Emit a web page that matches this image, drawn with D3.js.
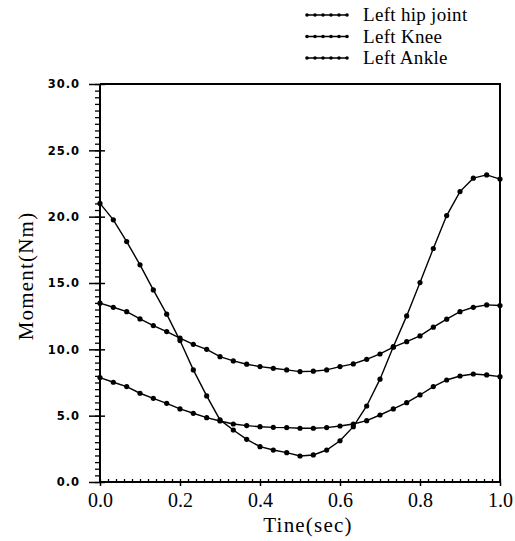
<!DOCTYPE html>
<html>
<head>
<meta charset="utf-8">
<script src="https://cdn.jsdelivr.net/npm/d3@7"></script>
<style>
  body { margin: 0; background: #fff; }
  svg { display: block; }
</style>
</head>
<body>
<svg id="chart"></svg>
<script>
const width = 515
const height = 541

// sample times (sec), 31 samples
const time = [0, 0.0333, 0.0667, 0.1, 0.1333, 0.1667, 0.2, 0.2333, 0.2667, 0.3, 0.3333,
  0.3667, 0.4, 0.4333, 0.4667, 0.5, 0.5333, 0.5667, 0.6, 0.6333, 0.6667, 0.7, 0.7333,
  0.7667, 0.8, 0.8333, 0.8667, 0.9, 0.9333, 0.9667, 1.0]

const hip = [21.0, 19.76, 18.12, 16.37, 14.48, 12.65, 10.66, 8.45, 6.49, 4.68, 3.92,
  3.22, 2.66, 2.41, 2.21, 1.96, 2.04, 2.41, 3.11, 4.17, 5.73, 7.75, 10.2, 12.52,
  15.03, 17.6, 20.08, 21.89, 22.9, 23.15, 22.83]
const knee = [13.48, 13.17, 12.84, 12.29, 11.79, 11.34, 10.84, 10.38, 10.0, 9.45, 9.13,
  8.88, 8.70, 8.57, 8.45, 8.32, 8.35, 8.45, 8.70, 8.90, 9.25, 9.65, 10.16, 10.58,
  11.01, 11.67, 12.27, 12.84, 13.17, 13.35, 13.3]
const ankle = [7.87, 7.52, 7.19, 6.69, 6.31, 5.93, 5.51, 5.18, 4.85, 4.60, 4.37,
  4.25, 4.17, 4.12, 4.10, 4.05, 4.05, 4.10, 4.22, 4.37, 4.62, 5.05, 5.51, 5.98,
  6.56, 7.19, 7.69, 7.99, 8.14, 8.07, 7.94]

const seriesNames = ['Left  hip  joint', 'Left  Knee', 'Left  Ankle']
const xTicks = [0, 0.2, 0.4, 0.6, 0.8, 1.0]
const yTicks = [0, 5, 10, 15, 20, 25, 30]

const series = [hip, knee, ankle].map((vals, i) => ({
  name: seriesNames[i],
  points: vals.map((v, j) => ({ t: time[j], v }))
}))

const margin = { left: 100, right: 15, top: 84, bottom: 59 }
const x = d3.scaleLinear().domain([0, 1]).range([margin.left, width - margin.right])
const y = d3.scaleLinear().domain([0, 30]).range([height - margin.bottom, margin.top])

const svg = d3.select('#chart')
  .attr('width', width)
  .attr('height', height)
  .attr('viewBox', `0 0 ${width} ${height}`)

const serif = '"Liberation Serif", "DejaVu Serif", serif'

// frame (top + right)
svg.append('path')
  .attr('d', `M${x(0)},${y(30)}H${x(1)}V${y(0)}`)
  .attr('fill', 'none')
  .attr('stroke', '#000')
  .attr('stroke-width', 2)

// minor ticks
const yMinor = d3.axisLeft(y).tickValues(d3.range(0, 30.01, 0.5)).tickSize(5).tickFormat('')
svg.append('g')
  .attr('transform', `translate(${x(0)},0)`)
  .call(yMinor)
  .call(g => g.select('.domain').remove())
  .call(g => g.selectAll('line').attr('stroke-width', 1.3))

const xMinor = d3.axisTop(x).tickValues(d3.range(0, 1.001, 0.02)).tickSize(3).tickFormat('')
svg.append('g')
  .attr('transform', `translate(0,${y(0)})`)
  .call(xMinor)
  .call(g => g.select('.domain').remove())
  .call(g => g.selectAll('line').attr('stroke-width', 1.3))

// major axes
const yAxis = d3.axisLeft(y).tickValues(yTicks).tickSize(11).tickPadding(9)
  .tickFormat(d3.format('.1f'))
svg.append('g')
  .attr('transform', `translate(${x(0)},0)`)
  .call(yAxis)
  .call(g => g.select('.domain').attr('stroke-width', 2).attr('d', `M0,${y(0)}V${y(30)}`))
  .call(g => g.selectAll('line').attr('stroke-width', 1.5).attr('x1', 5))
  .call(g => g.selectAll('text')
    .attr('font-family', '"DejaVu Sans", sans-serif')
    .attr('font-weight', 'bold')
    .attr('font-size', 11.5)
    .attr('letter-spacing', 1))

const xAxis = d3.axisBottom(x).tickValues(xTicks).tickSize(4).tickPadding(7)
  .tickFormat(d3.format('.1f'))
svg.append('g')
  .attr('transform', `translate(0,${y(0)})`)
  .call(xAxis)
  .call(g => g.select('.domain').attr('stroke-width', 2).attr('d', `M${x(0)},0H${x(1)}`))
  .call(g => g.selectAll('line').attr('stroke-width', 1.5))
  .call(g => g.selectAll('text')
    .attr('font-family', serif)
    .attr('font-size', 20)
    .attr('fill', '#000'))

// axis titles
svg.append('text')
  .attr('x', 308)
  .attr('y', 532)
  .attr('text-anchor', 'middle')
  .attr('font-family', serif)
  .attr('font-size', 21)
  .attr('letter-spacing', 1.2)
  .text('Tine(sec)')

svg.append('text')
  .attr('transform', 'translate(33,276) rotate(-90)')
  .attr('text-anchor', 'middle')
  .attr('font-family', serif)
  .attr('font-size', 21)
  .attr('letter-spacing', 1.2)
  .text('Moment(Nm)')

// lines and points
const line = d3.line().x(d => x(d.t)).y(d => y(d.v))

const s = svg.append('g').selectAll('.series')
  .data(series)
  .enter().append('g')
  .attr('class', 'series')

s.append('path')
  .attr('d', d => line(d.points))
  .attr('fill', 'none')
  .attr('stroke', '#000')
  .attr('stroke-width', 1.4)

s.selectAll('circle')
  .data(d => d.points)
  .enter().append('circle')
  .attr('cx', d => x(d.t))
  .attr('cy', d => y(d.v))
  .attr('r', 2.6)
  .attr('fill', '#000')

// legend
const legend = svg.append('g').attr('transform', 'translate(307,15)')
const item = legend.selectAll('.item')
  .data(series)
  .enter().append('g')
  .attr('class', 'item')
  .attr('transform', (d, i) => `translate(0,${i * 21.5})`)

item.append('line')
  .attr('x1', 0).attr('x2', 40)
  .attr('stroke', '#000')
  .attr('stroke-width', 1.4)

item.selectAll('circle')
  .data([0, 8, 16, 24, 32, 40])
  .enter().append('circle')
  .attr('cx', d => d)
  .attr('r', 1.8)
  .attr('fill', '#000')

item.append('text')
  .attr('x', 56)
  .attr('y', 6)
  .attr('font-family', serif)
  .attr('font-size', 19)
  .attr('letter-spacing', 0.3)
  .text(d => d.name)
</script>
</body>
</html>
